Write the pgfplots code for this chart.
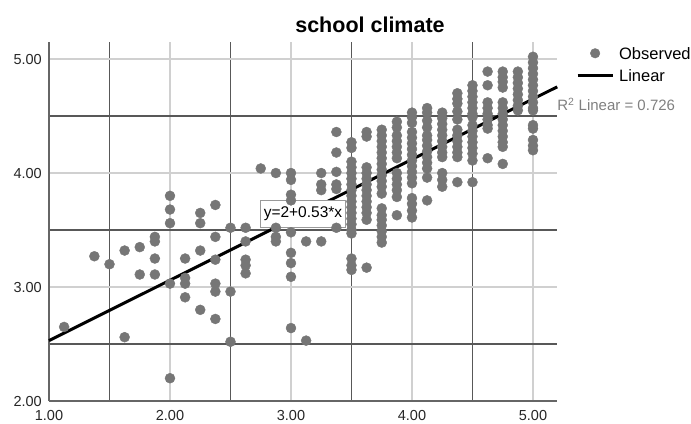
\documentclass[border=0pt]{standalone}
\usepackage{pgfplots}
\pgfplotsset{compat=1.18}
\usepackage{fontspec}
\setmainfont{Liberation Sans}
\definecolor{dotgray}{HTML}{767676}
\definecolor{majgrid}{HTML}{D0D0D0}
\definecolor{mingrid}{HTML}{585858}
\begin{document}
\begin{tikzpicture}
\begin{axis}[
  x=121pt, y=114pt,
  xmin=1, xmax=5.2, ymin=2, ymax=5.15,
  axis lines=left,
  axis line style={-, draw=black!60, line width=1.1pt},
  xtick={1,2,3,4,5}, ytick={2,3,4,5},
  minor xtick={1.5,2.5,3.5,4.5}, minor ytick={2.5,3.5,4.5},
  grid=both,
  major grid style={draw=majgrid, line width=1.3pt},
  minor grid style={draw=mingrid, line width=1.2pt},
  major tick length=0pt, minor tick length=0pt,
  /pgf/number format/assume math mode=true,
  tick label style={font=\fontsize{14.5}{16}\selectfont, text=black!85},
  xticklabel={\pgfmathprintnumber[fixed,fixed zerofill,precision=2]{\tick}},
  yticklabel={\pgfmathprintnumber[fixed,fixed zerofill,precision=2]{\tick}},
  xticklabel style={inner ysep=0pt, yshift=-9pt},
  yticklabel style={inner xsep=0pt, xshift=-7pt},
  clip=false,
  legend style={draw=none, fill=none, at={(axis cs:5.355,5.105)}, anchor=north west,
    inner sep=0pt, column sep=5pt, row sep=10pt,
    font=\fontsize{16.5}{18}\selectfont,
    nodes={inner sep=0pt, text height=12pt, text depth=0pt}},
  legend cell align=left,
]
\addplot[only marks, mark=*, color=dotgray, mark size=5pt,
  legend image code/.code={\fill[dotgray] (17.5pt,0pt) circle (4.8pt);}]
  table[row sep=\\] {
x y\\
1.125 2.65\\ 1.375 3.27\\ 1.5 3.20\\ 1.625 3.32\\ 1.625 2.56\\
1.75 3.35\\ 1.75 3.11\\
1.875 3.44\\ 1.875 3.40\\ 1.875 3.25\\ 1.875 3.11\\
2.0 3.80\\ 2.0 3.68\\ 2.0 3.56\\ 2.0 3.03\\ 2.0 2.20\\
2.125 3.25\\ 2.125 3.08\\ 2.125 3.03\\ 2.125 2.91\\
2.25 3.65\\ 2.25 3.56\\ 2.25 3.32\\ 2.25 2.80\\
2.375 3.72\\ 2.375 3.44\\ 2.375 3.24\\ 2.375 3.03\\ 2.375 2.96\\ 2.375 2.72\\
2.5 3.52\\ 2.5 2.96\\ 2.5 2.52\\
2.625 3.52\\ 2.625 3.40\\ 2.625 3.24\\ 2.625 3.19\\ 2.625 3.12\\
2.75 4.04\\
2.875 4.00\\ 2.875 3.52\\ 2.875 3.44\\ 2.875 3.40\\
3.0 4.00\\ 3.0 3.94\\ 3.0 3.81\\ 3.0 3.76\\ 3.0 3.48\\ 3.0 3.30\\ 3.0 3.21\\ 3.0 3.09\\ 3.0 2.64\\
3.125 3.40\\ 3.125 2.53\\
3.25 4.00\\ 3.25 3.90\\ 3.25 3.85\\ 3.25 3.40\\
3.375 4.36\\ 3.375 4.18\\ 3.375 4.01\\ 3.375 3.90\\ 3.375 3.86\\ 3.375 3.52\\
3.5 4.27\\ 3.5 4.22\\ 3.5 4.10\\ 3.5 4.05\\ 3.5 4.00\\ 3.5 3.95\\ 3.5 3.90\\ 3.5 3.85\\ 3.5 3.80\\ 3.5 3.75\\ 3.5 3.70\\ 3.5 3.65\\ 3.5 3.60\\ 3.5 3.55\\ 3.5 3.50\\ 3.5 3.47\\ 3.5 3.25\\ 3.5 3.19\\ 3.5 3.15\\
3.625 4.36\\ 3.625 4.32\\ 3.625 4.05\\ 3.625 4.00\\ 3.625 3.95\\ 3.625 3.90\\ 3.625 3.85\\ 3.625 3.80\\ 3.625 3.75\\ 3.625 3.70\\ 3.625 3.65\\ 3.625 3.59\\ 3.625 3.17\\
3.75 4.38\\ 3.75 4.33\\ 3.75 4.28\\ 3.75 4.23\\ 3.75 4.18\\ 3.75 4.13\\ 3.75 4.08\\ 3.75 4.03\\ 3.75 3.98\\ 3.75 3.93\\ 3.75 3.88\\ 3.75 3.82\\ 3.75 3.69\\ 3.75 3.63\\ 3.75 3.59\\ 3.75 3.54\\ 3.75 3.49\\ 3.75 3.44\\ 3.75 3.39\\
3.875 4.45\\ 3.875 4.40\\ 3.875 4.33\\ 3.875 4.28\\ 3.875 4.23\\ 3.875 4.18\\ 3.875 4.13\\ 3.875 4.00\\ 3.875 3.95\\ 3.875 3.90\\ 3.875 3.85\\ 3.875 3.79\\ 3.875 3.63\\
4.0 4.53\\ 4.0 4.49\\ 4.0 4.44\\ 4.0 4.36\\ 4.0 4.31\\ 4.0 4.26\\ 4.0 4.21\\ 4.0 4.16\\ 4.0 4.11\\ 4.0 4.06\\ 4.0 4.01\\ 4.0 3.96\\ 4.0 3.91\\ 4.0 3.78\\ 4.0 3.73\\ 4.0 3.67\\ 4.0 3.61\\
4.125 4.57\\ 4.125 4.53\\ 4.125 4.46\\ 4.125 4.40\\ 4.125 4.33\\ 4.125 4.29\\ 4.125 4.24\\ 4.125 4.19\\ 4.125 4.14\\ 4.125 4.09\\ 4.125 4.04\\ 4.125 3.96\\ 4.125 3.76\\
4.25 4.53\\ 4.25 4.48\\ 4.25 4.43\\ 4.25 4.38\\ 4.25 4.33\\ 4.25 4.28\\ 4.25 4.23\\ 4.25 4.18\\ 4.25 4.14\\ 4.25 4.00\\ 4.25 3.94\\ 4.25 3.88\\
4.375 4.70\\ 4.375 4.65\\ 4.375 4.61\\ 4.375 4.54\\ 4.375 4.47\\ 4.375 4.38\\ 4.375 4.33\\ 4.375 4.28\\ 4.375 4.23\\ 4.375 4.18\\ 4.375 4.14\\ 4.375 3.92\\
4.5 4.77\\ 4.5 4.72\\ 4.5 4.67\\ 4.5 4.62\\ 4.5 4.57\\ 4.5 4.52\\ 4.5 4.49\\ 4.5 4.42\\ 4.5 4.37\\ 4.5 4.32\\ 4.5 4.27\\ 4.5 4.22\\ 4.5 4.17\\ 4.5 4.11\\ 4.5 3.92\\
4.625 4.89\\ 4.625 4.77\\ 4.625 4.62\\ 4.625 4.57\\ 4.625 4.52\\ 4.625 4.47\\ 4.625 4.42\\ 4.625 4.39\\ 4.625 4.13\\
4.75 4.89\\ 4.75 4.84\\ 4.75 4.80\\ 4.75 4.75\\ 4.75 4.62\\ 4.75 4.57\\ 4.75 4.52\\ 4.75 4.47\\ 4.75 4.42\\ 4.75 4.37\\ 4.75 4.32\\ 4.75 4.27\\ 4.75 4.23\\ 4.75 4.08\\
4.875 4.89\\ 4.875 4.84\\ 4.875 4.79\\ 4.875 4.74\\ 4.875 4.69\\ 4.875 4.64\\ 4.875 4.59\\ 4.875 4.55\\
5.0 5.02\\ 5.0 4.97\\ 5.0 4.92\\ 5.0 4.87\\ 5.0 4.82\\ 5.0 4.77\\ 5.0 4.72\\ 5.0 4.67\\ 5.0 4.62\\ 5.0 4.57\\ 5.0 4.55\\ 5.0 4.42\\ 5.0 4.39\\ 5.0 4.29\\ 5.0 4.24\\ 5.0 4.20\\
};
\addlegendentry{Observed}
\addplot[black, line width=3pt,
  legend image code/.code={\draw[black, line width=3pt] (0pt,0pt) -- (35pt,0pt);}]
  coordinates {(1,2.53) (5.2,4.756)};
\addlegendentry{Linear}
\node[anchor=west, inner sep=0pt, text=black!50, font=\fontsize{15}{16}\selectfont]
  at (axis cs:5.2,4.605) {R\textsuperscript{2} Linear = 0.726};
\node[font=\bfseries\fontsize{21.5}{24}\selectfont, inner sep=0pt]
  at (axis cs:3.653,5.298) {school climate};
\node[fill=white, draw=black!40, line width=0.8pt, inner xsep=3pt, minimum height=27pt,
  font=\fontsize{15.5}{17}\selectfont]
  at (axis cs:3.099,3.64) {y=2+0.53*x};
\path (axis cs:0.595,1.807) rectangle (axis cs:6.306,5.518);
\end{axis}
\end{tikzpicture}
\end{document}
